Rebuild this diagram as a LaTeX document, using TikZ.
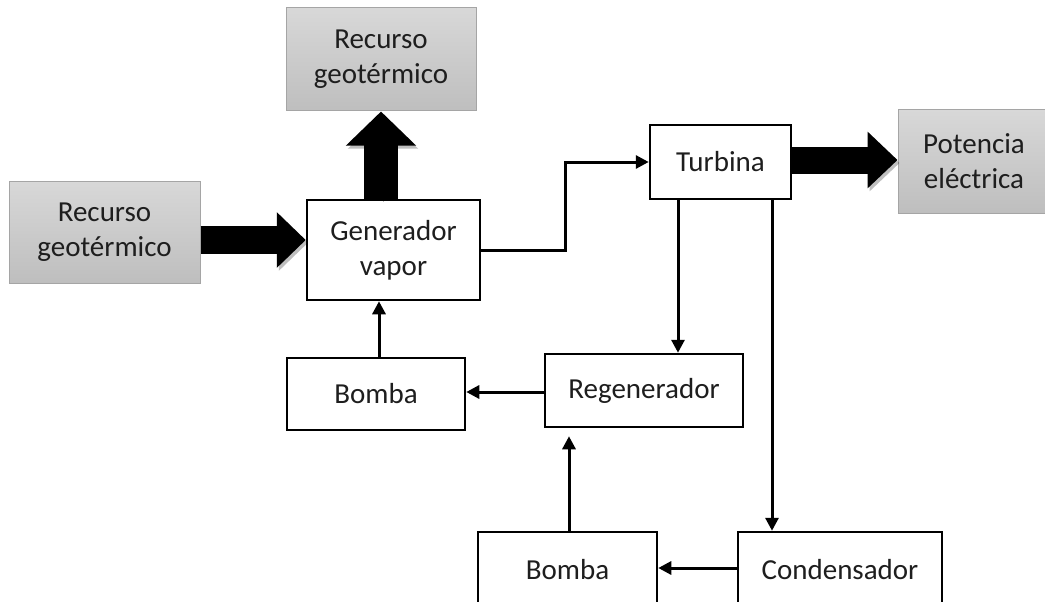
\documentclass[tikz,border=0pt]{standalone}
\usepackage{fontspec}
\setmainfont{Carlito}
\usetikzlibrary{arrows.meta}
\definecolor{boxgrayT}{RGB}{216,216,216}
\definecolor{boxgrayB}{RGB}{190,190,190}
\definecolor{boxline}{RGB}{165,165,165}
\definecolor{txt}{RGB}{30,30,30}
\begin{document}
\begin{tikzpicture}[x=1pt,y=-1pt,
  every node/.style={font=\fontsize{29}{35}\selectfont, align=center, inner sep=0pt, text=txt},
  blk/.style={draw=black, line width=2.5pt, fill=white},
  gbox/.style={draw=boxline, line width=1pt, top color=boxgrayT, bottom color=boxgrayB},
  conn/.style={line width=3pt, -{Triangle[width=13pt,length=13pt]}},
  plainconn/.style={line width=3pt},
  bigarr/.style n args={3}{line width=#1, -{Triangle[width=#2,length=#3]},
    preaction={draw=black, opacity=0.25, transform canvas={shift={(2pt,-3pt)}}}}
]
\useasboundingbox (0,0) rectangle (1045,602);
\clip (0,0) rectangle (1045,602);
% gray boxes
\node[gbox, minimum width=190pt, minimum height=103pt] (rg1) at (381,59.5) {Recurso\\geotérmico};
\node[gbox, minimum width=191pt, minimum height=102pt] (rg2) at (104.5,232) {Recurso\\geotérmico};
\node[gbox, minimum width=152pt, minimum height=103pt] (pot) at (974,161.5) {Potencia\\eléctrica};
% process boxes
\node[blk, minimum width=173pt, minimum height=100pt] (gen) at (393.5,250) {Generador\\vapor};
\node[blk, minimum width=141pt, minimum height=74pt] (turb) at (720.5,162) {Turbina};
\node[blk, minimum width=178pt, minimum height=72pt] (bomba1) at (376,394) {Bomba};
\node[blk, minimum width=198pt, minimum height=73pt] (regen) at (644,390.5) {Regenerador};
\node[blk, minimum width=179pt, minimum height=76pt] (bomba2) at (567.5,570) {Bomba};
\node[blk, minimum width=204pt, minimum height=76pt] (cond) at (840,570) {Condensador};
% big arrows
\draw[bigarr={28pt}{54pt}{29pt}] (rg2.east |- 0,240) -- (gen.west |- 0,240);
\draw[bigarr={34pt}{68pt}{34pt}] (gen.north -| 381,0) -- (rg1.south -| 381,0);
\draw[bigarr={27pt}{55pt}{30pt}] (turb.east |- 0,160) -- (pot.west |- 0,160);
% connectors
\draw[conn] (gen.east) -- (565,250) |- (turb.west);
\draw[conn] (turb.south -| 678,0) -- (regen.north -| 678,0);
\draw[conn] (turb.south -| 772,0) -- (cond.north -| 772,0);
\draw[conn] (regen.west |- 0,392) -- (bomba1.east |- 0,392);
\draw[conn] (bomba1.north -| 379,0) -- (gen.south -| 379,0);
\draw[conn] (cond.west |- 0,568) -- (bomba2.east |- 0,568);
\draw[conn, shorten >=8pt] (bomba2.north -| 569,0) -- (regen.south -| 569,0);
\end{tikzpicture}
\end{document}
